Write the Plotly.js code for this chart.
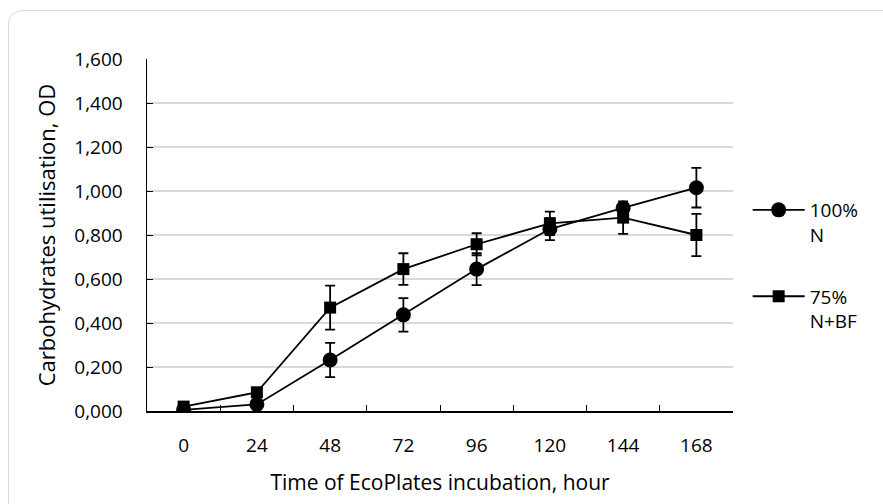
<!DOCTYPE html>
<html>
<head>
<meta charset="utf-8">
<script src="https://cdn.plot.ly/plotly-3.0.1.min.js"></script>
<style>
html,body{margin:0;padding:0;background:#fff;overflow:hidden;}
#wrap{position:absolute;left:0;top:0;width:883px;height:504px;}
#frame{position:absolute;left:8px;top:10px;width:900px;height:520px;border:1.5px solid #d9d9d9;border-radius:14px;box-sizing:border-box;pointer-events:none;z-index:5;}
#chart{position:absolute;left:0;top:0;width:883px;height:504px;}
</style>
</head>
<body>
<div id="wrap"><div id="chart"></div><div id="frame"></div></div>
<script>
var categories = ["0","24","48","72","96","120","144","168"];
var seriesNames = ["100%<br>N", "75%<br>N+BF"];
var n100 = [0.005, 0.030, 0.232, 0.437, 0.645, 0.827, 0.923, 1.015];
var n100err = [0.005, 0.010, 0.078, 0.076, 0.073, 0.050, 0.020, 0.090];
var n75 = [0.020, 0.085, 0.470, 0.645, 0.758, 0.853, 0.879, 0.800];
var n75err = [0.005, 0.010, 0.100, 0.072, 0.050, 0.053, 0.074, 0.096];
var yTickVals = [0,0.2,0.4,0.6,0.8,1.0,1.2,1.4,1.6];
var yTickText = ["0,000","0,200","0,400","0,600","0,800","1,000","1,200","1,400","1,600"];

var font = "Open Sans, sans-serif";
var traces = [
  {x: categories, y: n100, name: seriesNames[0], type: "scatter", mode: "lines+markers",
   legendgroup: "a",
   line: {color: "#000", width: 1.8},
   marker: {symbol: "circle", size: 15, color: "#000"},
   error_y: {type: "data", array: n100err, visible: true, color: "#000", thickness: 1.8, width: 5}},
  {x: categories, y: n75, name: seriesNames[1], type: "scatter", mode: "lines+markers",
   legendgroup: "b",
   line: {color: "#000", width: 1.8},
   marker: {symbol: "square", size: 12, color: "#000"},
   error_y: {type: "data", array: n75err, visible: true, color: "#000", thickness: 1.8, width: 5}}
];
var layout = {
  width: 883, height: 504,
  margin: {l: 147, r: 150, t: 59, b: 93},
  paper_bgcolor: "#fff", plot_bgcolor: "#fff",
  font: {family: font, size: 19, color: "#000"},
  showlegend: true,
  legend: {x: 1.025, xanchor: "left", y: 0.625, yanchor: "top", valign: "top",
           tracegroupgap: 34, itemwidth: 52, font: {family: font, size: 19, color: "#000"}},
  xaxis: {type: "category", categoryorder: "array", categoryarray: categories,
          range: [-0.5, 7.5], showline: true, linecolor: "#000", linewidth: 1.5,
          showgrid: false, zeroline: false, ticks: "inside", ticklen: 6, tickcolor: "#000",
          tickson: "boundaries", tickfont: {family: font, size: 19}, ticklabelstandoff: 17,
          title: {text: "Time of EcoPlates incubation, hour", font: {family: font, size: 21}, standoff: 18}},
  yaxis: {range: [0, 1.6], tickvals: yTickVals, ticktext: yTickText,
          showline: true, linecolor: "#000", linewidth: 1.5, mirror: false,
          showgrid: true, gridcolor: "#d9d9d9", gridwidth: 1.3, zeroline: false,
          ticks: "inside", ticklen: 6, tickcolor: "#000",
          tickfont: {family: font, size: 19}, ticklabelstandoff: 19,
          title: {text: "Carbohydrates utilisation, OD", font: {family: font, size: 22}, standoff: 12}}
};
Plotly.newPlot("chart", traces, layout, {displayModeBar: false, staticPlot: true});
</script>
</body>
</html>
